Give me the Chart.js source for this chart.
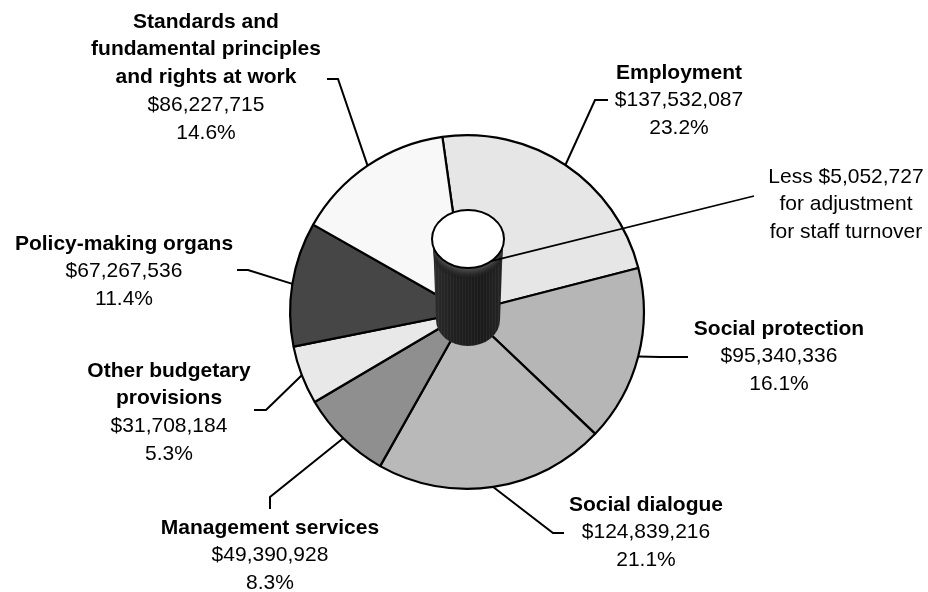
<!DOCTYPE html>
<html>
<head>
<meta charset="utf-8">
<script src="https://cdn.jsdelivr.net/npm/chart.js@4.4.1/dist/chart.umd.min.js"></script>
<style>
    html, body { margin: 0; padding: 0; background: #fff; }
    canvas { display: block; }
</style>
</head>
<body>
<canvas id="budget_chart" width="928" height="592"></canvas>
<script>
// programme budget by strategic objective (slices clockwise from the top)
const categories = [
    ['Employment'],
    ['Social protection'],
    ['Social dialogue'],
    ['Management services'],
    ['Other budgetary', 'provisions'],
    ['Policy-making organs'],
    ['Standards and', 'fundamental principles', 'and rights at work']
];
const budget = [137532087, 95340336, 124839216, 49390928, 31708184, 67267536, 86227715];
const shares = ['23.2%', '16.1%', '21.1%', '8.3%', '5.3%', '11.4%', '14.6%'];
const turnover_adjustment = 5052727;

function dollars(v) {
    return '$' + String(v).replace(/\B(?=(\d{3})+(?!\d))/g, ',');
}

// where each label sits: text centre x, first line y, then the leader's elbow and end
const label_spots = [
    { x: 679, y: 73,  elbow: [595, 100], end: [608, 100] },
    { x: 779, y: 329, elbow: [660, 357], end: [688, 357] },
    { x: 646, y: 505, elbow: [553, 533], end: [564, 533] },
    { x: 270, y: 528, elbow: [270, 497], end: [270, 509] },
    { x: 169, y: 371, elbow: [266, 410], end: [254, 410] },
    { x: 124, y: 244, elbow: [248, 270], end: [237, 270] },
    { x: 206, y: 22,  elbow: [338, 79],  end: [327, 79] }
];
const LINE_STEP = 27.7;
const FONT_FAMILY = '"Liberation Sans", Arial, sans-serif';

// the staff turnover cylinder standing in the middle of the pie
function draw_cylinder(ctx, cx, cy) {
    const top_y = cy - 73;
    const bot_y = cy + 8;
    const top_rx = 36, top_ry = 29;
    const bot_rx = 32, bot_ry = 26;

    const body = new Path2D();
    body.moveTo(cx - top_rx + 1, top_y);
    body.lineTo(cx - bot_rx, bot_y);
    body.ellipse(cx, bot_y, bot_rx, bot_ry, 0, Math.PI, 0, true);
    body.lineTo(cx + top_rx - 1, top_y);
    body.closePath();

    ctx.save();
    const grad = ctx.createLinearGradient(cx - top_rx, 0, cx + top_rx, 0);
    grad.addColorStop(0, '#2c2c2c');
    grad.addColorStop(0.3, '#202020');
    grad.addColorStop(0.7, '#1a1a1a');
    grad.addColorStop(1, '#262626');
    ctx.fillStyle = grad;
    ctx.fill(body);
    ctx.clip(body);

    // fine vertical ribbing
    ctx.strokeStyle = 'rgba(255,255,255,0.05)';
    ctx.lineWidth = 1;
    for (let x = cx - top_rx; x < cx + top_rx; x += 3) {
        ctx.beginPath();
        ctx.moveTo(x + 0.5, top_y);
        ctx.lineTo(x + 0.5, bot_y + bot_ry);
        ctx.stroke();
    }

    // soft grey band just under the rim, following its curve
    const steps = 12;
    for (let i = steps; i >= 1; i--) {
        const t = i / steps;
        const g = Math.round(120 - 90 * Math.pow(t, 0.5));
        ctx.fillStyle = `rgba(${g},${g},${g},${0.7 - 0.5 * t})`;
        ctx.beginPath();
        ctx.ellipse(cx, top_y + i, top_rx, top_ry, 0, 0, Math.PI * 2);
        ctx.fill();
    }
    ctx.restore();

    ctx.save();
    ctx.beginPath();
    ctx.ellipse(cx, top_y, top_rx, top_ry, 0, 0, Math.PI * 2);
    ctx.fillStyle = '#fff';
    ctx.fill();
    ctx.lineWidth = 2;
    ctx.strokeStyle = '#000';
    ctx.stroke();
    ctx.restore();

    return { x: cx + top_rx * Math.cos(0.87), y: top_y + top_ry * Math.sin(0.87) };
}

function draw_lines(ctx, lines, x, y) {
    lines.forEach((ln, i) => {
        ctx.font = `${ln.bold ? 'bold ' : ''}21px ${FONT_FAMILY}`;
        ctx.fillText(ln.text, x, y + i * LINE_STEP);
    });
}

const labels_plugin = {
    id: 'labels_plugin',
    afterDatasetsDraw(chart) {
        const ctx = chart.ctx;
        const arcs = chart.getDatasetMeta(0).data;
        const cx = arcs[0].x, cy = arcs[0].y;

        ctx.save();
        ctx.strokeStyle = '#000';
        ctx.lineWidth = 2;
        ctx.lineJoin = 'miter';

        // leaders from the middle of each slice's rim
        arcs.forEach((arc, i) => {
            const mid = (arc.startAngle + arc.endAngle) / 2;
            const r = arc.outerRadius;
            const spot = label_spots[i];
            ctx.beginPath();
            ctx.moveTo(cx + r * Math.cos(mid), cy + r * Math.sin(mid));
            ctx.lineTo(spot.elbow[0], spot.elbow[1]);
            ctx.lineTo(spot.end[0], spot.end[1]);
            ctx.stroke();
        });
        ctx.restore();

        const rim = draw_cylinder(ctx, cx + 1, cy);

        ctx.save();
        ctx.strokeStyle = '#000';
        ctx.lineWidth = 1.8;
        ctx.beginPath();
        ctx.moveTo(rim.x, rim.y);
        ctx.lineTo(754, 196);
        ctx.stroke();

        ctx.fillStyle = '#000';
        ctx.textAlign = 'center';
        ctx.textBaseline = 'middle';

        arcs.forEach((arc, i) => {
            const spot = label_spots[i];
            const lines = categories[i].map(t => ({ text: t, bold: true }));
            lines.push({ text: dollars(budget[i]) });
            lines.push({ text: shares[i] });
            draw_lines(ctx, lines, spot.x, spot.y);
        });

        draw_lines(ctx, [
            { text: 'Less ' + dollars(turnover_adjustment) },
            { text: 'for adjustment' },
            { text: 'for staff turnover' }
        ], 846, 177);
        ctx.restore();
    }
};

const canvas = document.getElementById('budget_chart');

let chart = new Chart(canvas, {
    type: 'pie',
    data: {
        labels: categories.map(c => c.join(' ')),
        datasets: [{
            data: budget,
            backgroundColor: ['#e6e6e6', '#b6b6b6', '#b9b9b9', '#8f8f8f', '#e8e8e8', '#464646', '#f8f8f8'],
            borderColor: '#000',
            borderWidth: 2.2
        }]
    },
    options: {
        responsive: false,
        animation: false,
        rotation: -8,
        layout: {
            padding: { left: 289, right: 283, top: 134, bottom: 102 }
        },
        plugins: {
            legend: { display: false },
            tooltip: { enabled: false }
        }
    },
    plugins: [labels_plugin]
});
</script>
</body>
</html>
